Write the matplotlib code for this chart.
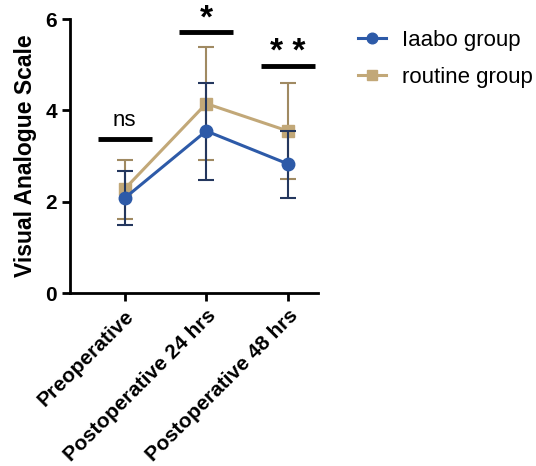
import numpy as np
import matplotlib
matplotlib.use("Agg")
import matplotlib.pyplot as plt

plt.rcParams['font.family'] = ['Liberation Sans', 'DejaVu Sans']

# Data
timepoints = ["Preoperative", "Postoperative 24 hrs", "Postoperative 48 hrs"]
iaabo_mean = [2.08, 3.55, 2.83]
iaabo_low = [1.50, 2.48, 2.08]
iaabo_high = [2.68, 4.60, 3.55]
routine_mean = [2.28, 4.15, 3.55]
routine_low = [1.63, 2.92, 2.50]
routine_high = [2.92, 5.38, 4.60]
sig_labels = ["ns", "*", "**"]
sig_heights = [3.37, 5.71, 4.97]

blue = "#2d5aa8"
blue_err = "#24375e"
tan = "#c2a878"
tan_err = "#a08a62"

fig = plt.figure(figsize=(5.36, 4.66), dpi=100)
ax = fig.add_axes([0.1306, 0.371, 0.4627, 0.588])

x = np.arange(len(timepoints))

def plot_group(mean, low, high, color, ecolor, marker, ms, label, z):
    mean = np.array(mean)
    yerr = [mean - np.array(low), np.array(high) - mean]
    ax.errorbar(x, mean, yerr=yerr, fmt='none', ecolor=ecolor, elinewidth=1.5,
                capsize=6, capthick=1.5, zorder=z)
    ax.plot(x, mean, color=color, lw=2.2, marker=marker, ms=ms, zorder=z + 0.5,
            label=label)

plot_group(routine_mean, routine_low, routine_high, tan, tan_err, 's', 8,
           "routine group", 2)
plot_group(iaabo_mean, iaabo_low, iaabo_high, blue, blue_err, 'o', 9,
           "Iaabo group", 3)

# significance bars
for xi, lab, h in zip(x, sig_labels, sig_heights):
    ax.plot([xi - 0.33, xi + 0.33], [h, h], color='black', lw=3.5,
            solid_capstyle='butt', clip_on=False)
    if lab == "ns":
        ax.text(xi, h + 0.18, lab, ha='center', va='bottom', fontsize=16)
    else:
        ax.text(xi, h - 0.05, lab.replace("**", "* *"), ha='center',
                va='bottom', fontsize=24, fontweight='bold')

ax.set_xlim(-0.67, 2.37)
ax.set_ylim(0, 6)
ax.set_yticks([0, 2, 4, 6])
ax.set_xticks(x)
ax.set_xticklabels(timepoints, rotation=45, ha='right', rotation_mode='anchor',
                   fontsize=15, fontweight='bold')
for t in ax.get_yticklabels():
    t.set_fontsize(15)
    t.set_fontweight('bold')
ax.set_ylabel("Visual Analogue Scale", fontsize=16.5, fontweight='bold',
              labelpad=6)
for s in ['top', 'right']:
    ax.spines[s].set_visible(False)
for s in ['left', 'bottom']:
    ax.spines[s].set_linewidth(2)
ax.tick_params(width=2, length=6)

handles, labels = ax.get_legend_handles_labels()
ax.legend(handles[::-1], labels[::-1], loc='upper left', bbox_to_anchor=(1.08, 1.035),
          frameon=False, fontsize=16, handlelength=1.25, handletextpad=0.75,
          labelspacing=0.72, markerscale=0.85)

fig.savefig("out.png", dpi=100)
